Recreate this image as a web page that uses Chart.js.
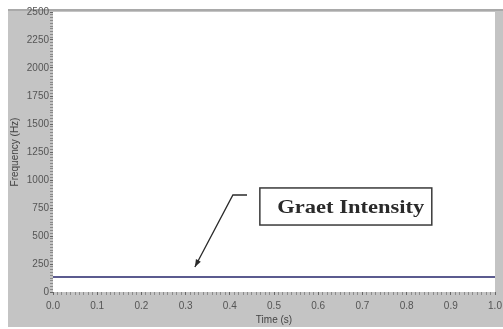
<!DOCTYPE html>
<html>
<head>
<meta charset="utf-8">
<script src="https://cdn.jsdelivr.net/npm/chart.js@4/dist/chart.umd.min.js"></script>
<style>
  html, body { margin: 0; padding: 0; background: #fff; }
  #wrap { width: 503px; height: 329px; position: relative; }
</style>
</head>
<body>
<div id="wrap"><canvas id="myChart"></canvas></div>
<script>
// data
let timeValues = [0.0, 1.0];
let freqValues = [135, 135];
let xTickMajor = 0.1;
let yTickMajor = 250;
let noteText = "Graet Intensity";
// annotation anchors, in data units (time, Hz)
let noteBox = [0.468, 929, 0.857, 598];
let arrowPath = [[0.439, 866], [0.407, 866], [0.321, 223]];

let tickFont = { family: "'Liberation Sans', Arial, sans-serif", size: 10 };

// grey panel behind the plot, white plot area
const panelPlugin = {
    id: 'panel',
    beforeDraw(chart) {
        const ctx = chart.ctx;
        const a = chart.chartArea;
        ctx.save();
        ctx.fillStyle = '#ffffff';
        ctx.fillRect(0, 0, chart.width, chart.height);
        ctx.fillStyle = '#c4c4c4';
        ctx.fillRect(8, 9, chart.width - 8, 318);
        ctx.fillStyle = '#a9a9a9';
        ctx.fillRect(8, 9, chart.width - 8, 2);
        ctx.fillStyle = '#ffffff';
        ctx.fillRect(a.left, a.top, a.right - a.left, a.bottom - a.top);
        ctx.restore();
    }
};

// text box with the bent arrow
const notePlugin = {
    id: 'note',
    afterDraw(chart) {
        const ctx = chart.ctx;
        const xs = chart.scales.x;
        const ys = chart.scales.y;
        let x1 = xs.getPixelForValue(noteBox[0]);
        let y1 = ys.getPixelForValue(noteBox[1]);
        let x2 = xs.getPixelForValue(noteBox[2]);
        let y2 = ys.getPixelForValue(noteBox[3]);
        ctx.save();
        ctx.fillStyle = '#ffffff';
        ctx.fillRect(x1, y1, x2 - x1, y2 - y1);
        ctx.strokeStyle = '#3a3a3a';
        ctx.lineWidth = 1.5;
        ctx.strokeRect(x1, y1, x2 - x1, y2 - y1);

        ctx.font = "bold 18px 'Liberation Serif', 'Times New Roman', serif";
        ctx.fillStyle = '#2a2a2a';
        ctx.textBaseline = 'alphabetic';
        let w = ctx.measureText(noteText).width;
        let sx = 147 / w;
        let cx = (x1 + x2) / 2 + 5;
        ctx.translate(cx, y1 + 25);
        ctx.scale(sx, 1);
        ctx.textAlign = 'center';
        ctx.fillText(noteText, 0, 0);
        ctx.restore();

        // arrow
        let pts = arrowPath.map(p => [xs.getPixelForValue(p[0]), ys.getPixelForValue(p[1])]);
        ctx.save();
        ctx.strokeStyle = '#2a2a2a';
        ctx.fillStyle = '#2a2a2a';
        ctx.lineWidth = 1.3;
        ctx.beginPath();
        ctx.moveTo(pts[0][0], pts[0][1]);
        for (let i = 1; i < pts.length; i++) {
            ctx.lineTo(pts[i][0], pts[i][1]);
        }
        ctx.stroke();
        let tip = pts[pts.length - 1];
        let prev = pts[pts.length - 2];
        let ang = Math.atan2(tip[1] - prev[1], tip[0] - prev[0]);
        let len = 8;
        ctx.beginPath();
        ctx.moveTo(tip[0], tip[1]);
        ctx.lineTo(tip[0] - len * Math.cos(ang - 0.35), tip[1] - len * Math.sin(ang - 0.35));
        ctx.lineTo(tip[0] - len * Math.cos(ang + 0.35), tip[1] - len * Math.sin(ang + 0.35));
        ctx.closePath();
        ctx.fill();
        ctx.restore();
    }
};

function isMajor(value, step) {
    let r = Math.round(value / step * 1000) / 1000;
    return Math.abs(r - Math.round(r)) < 1e-6;
}

function initChart() {
    let points = timeValues.map((t, i) => ({ x: t, y: freqValues[i] }));
    let ctx = document.getElementById("myChart").getContext("2d");
    new Chart(ctx, {
        type: 'line',
        data: {
            datasets: [{
                data: points,
                borderColor: '#5b5b8f',
                borderWidth: 2,
                pointRadius: 0,
                fill: false
            }]
        },
        options: {
            responsive: true,
            maintainAspectRatio: false,
            animation: false,
            layout: { padding: { left: 0, top: 12, right: 0, bottom: 0 } },
            plugins: {
                legend: { display: false },
                tooltip: { enabled: false }
            },
            scales: {
                x: {
                    type: 'linear',
                    min: 0,
                    max: 1,
                    border: { display: false },
                    grid: {
                        drawOnChartArea: false,
                        tickLength: 3,
                        tickColor: c => isMajor(c.tick.value, xTickMajor) ? '#666' : '#8a8a8a'
                    },
                    ticks: {
                        stepSize: 0.01,
                        autoSkip: false,
                        maxRotation: 0,
                        padding: 5,
                        color: '#555',
                        font: tickFont,
                        callback: v => isMajor(v, xTickMajor) ? v.toFixed(1) : ''
                    },
                    title: {
                        display: true,
                        text: 'Time (s)',
                        color: '#444',
                        font: tickFont,
                        padding: { top: 0, bottom: 3 }
                    },
                    afterFit: s => {
                        s.height = 37;
                        s.paddingRight = 8;
                        s.paddingLeft = 0;
                    }
                },
                y: {
                    min: 0,
                    max: 2500,
                    border: { display: false },
                    grid: {
                        drawOnChartArea: false,
                        tickLength: 3,
                        tickColor: c => isMajor(c.tick.value, yTickMajor) ? '#666' : '#8a8a8a'
                    },
                    ticks: {
                        stepSize: 25,
                        autoSkip: false,
                        padding: 1,
                        color: '#555',
                        font: tickFont,
                        callback: v => isMajor(v, yTickMajor) ? String(v) : ''
                    },
                    title: {
                        display: true,
                        text: 'Frequency (Hz)',
                        color: '#444',
                        font: tickFont,
                        padding: { top: 9, bottom: 0 }
                    },
                    afterFit: s => { s.width = 53; }
                }
            }
        },
        plugins: [panelPlugin, notePlugin]
    });
}

initChart();
</script>
</body>
</html>
